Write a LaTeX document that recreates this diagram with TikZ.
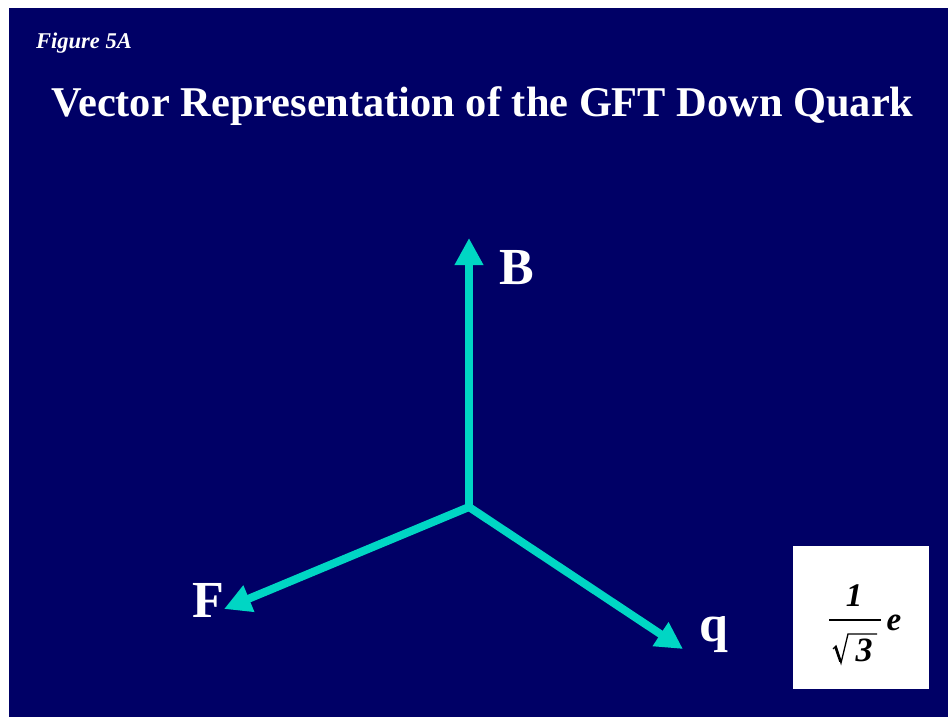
\documentclass[tikz,border=0pt]{standalone}
\usepackage{fontspec}
\setmainfont{Liberation Serif}
\usetikzlibrary{arrows.meta}
\definecolor{navy}{RGB}{0,0,102}
\definecolor{vec}{RGB}{0,214,196}
\tikzset{
  vecline/.style={draw=vec, line width=8pt, line cap=round, -{Triangle[length=27pt,width=27pt]}},
  axlabel/.style={text=white, anchor=base, inner sep=0pt, font=\fontsize{52}{56}\selectfont\bfseries},
  fracnum/.style={text=black, anchor=base, inner sep=0pt, font=\fontsize{30}{34}\selectfont\bfseries\itshape}
}
\begin{document}
\begin{tikzpicture}[x=1pt,y=-1pt]
\useasboundingbox (0,0) rectangle (948,717);
\fill[white] (0,0) rectangle (948,717);
\fill[navy] (9,8) rectangle (948,717);
\node[anchor=base west, inner sep=0pt, text=white, font=\fontsize{22.5}{26}\selectfont\bfseries\itshape] (fig) at (36,49) {Figure 5A};
\node[anchor=base, inner sep=0pt, text=white, font=\fontsize{42.4}{48}\selectfont\bfseries] (title) at (482.5,117) {Vector Representation of the GFT Down Quark};
\coordinate (O) at (469,507);
\coordinate (Btip) at (469,238);
\coordinate (Ftip) at (224,609);
\coordinate (qtip) at (683,649);
\draw[vecline] (O) -- (Btip);
\draw[vecline] (O) -- (Ftip);
\draw[vecline] (O) -- (qtip);
\node[axlabel] (B) at (517,284) {B};
\node[axlabel] (F) at (208,617) {F};
\node[axlabel] (q) at (714,641) {q};
\fill[white] (793,546) rectangle (929,689);
\node[fracnum, font=\fontsize{33}{36}\selectfont\bfseries\itshape] (one) at (854,606) {1};
\draw[black, line width=2pt] (829,620) -- (881,620);
\draw[black, line width=1.3pt, line join=miter] (833,649) -- (836,646) -- (841,663) -- (848,634) -- (877,634);
\draw[black, line width=2.6pt] (835.5,647) -- (840.5,661.5);
\node[fracnum, font=\fontsize{34}{38}\selectfont\bfseries\itshape] (three) at (864,661) {3};
\node[fracnum, font=\fontsize{33}{36}\selectfont\bfseries\itshape] (e) at (894,630) {e};
\end{tikzpicture}
\end{document}
